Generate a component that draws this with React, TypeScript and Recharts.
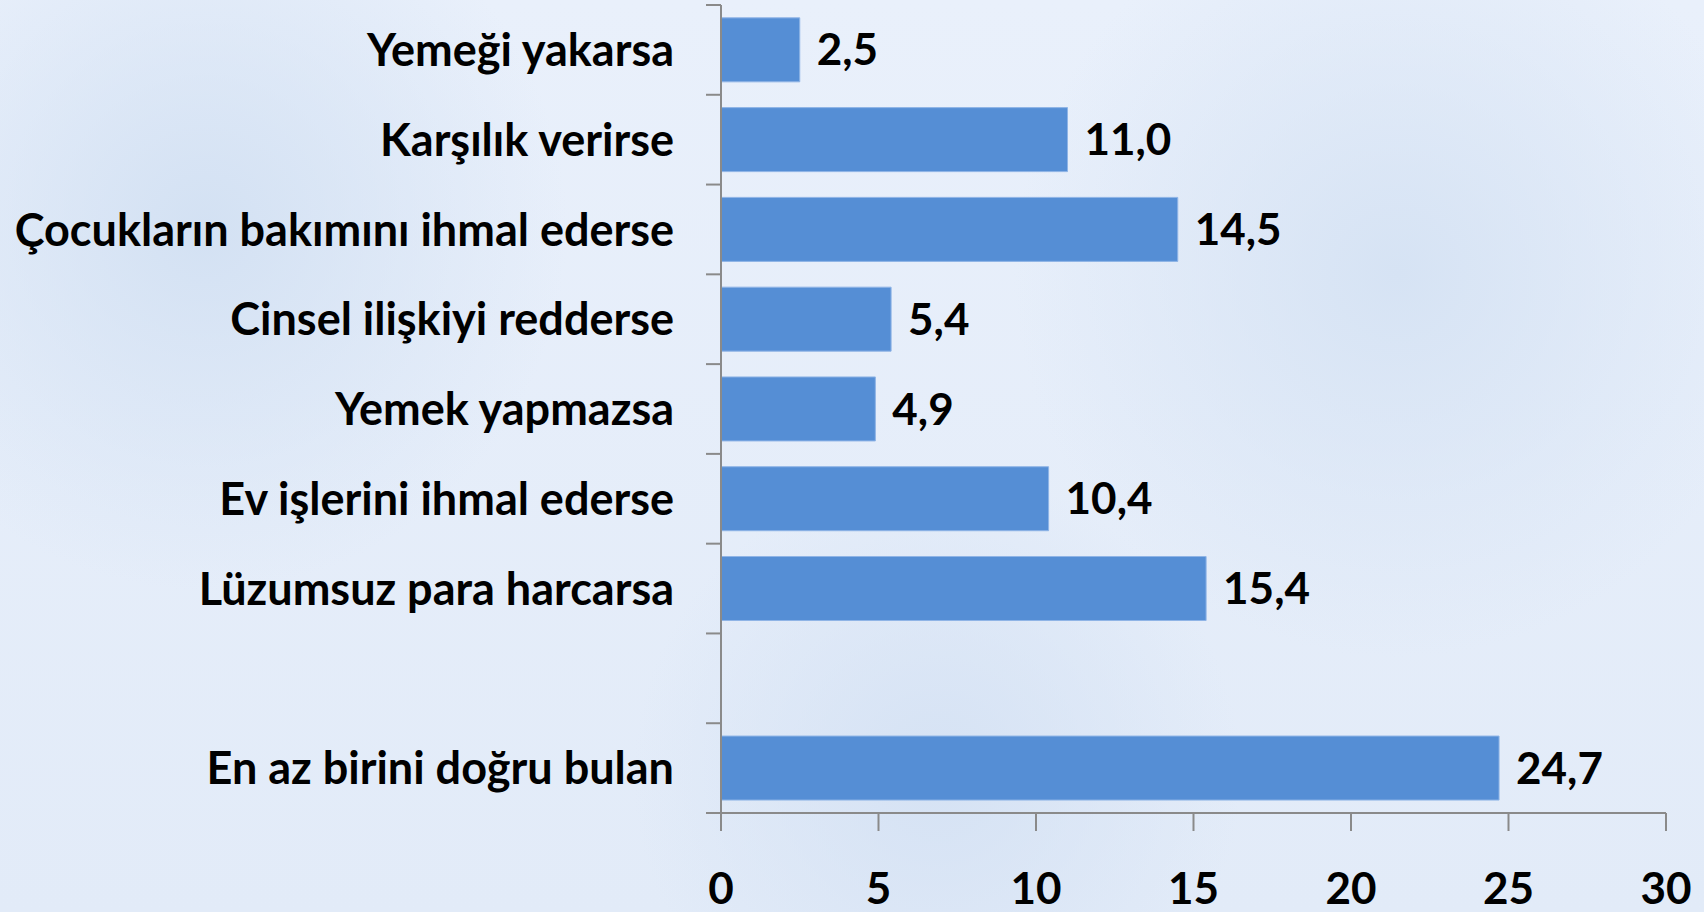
import React from "react";
import { BarChart, Bar, XAxis, YAxis, LabelList } from "recharts";

const categories = [
  "Yemeği yakarsa",
  "Karşılık verirse",
  "Çocukların bakımını ihmal ederse",
  "Cinsel ilişkiyi redderse",
  "Yemek yapmazsa",
  "Ev işlerini ihmal ederse",
  "Lüzumsuz para harcarsa",
  "",
  "En az birini doğru bulan",
];
const values: (number | null)[] = [2.5, 11.0, 14.5, 5.4, 4.9, 10.4, 15.4, null, 24.7];
const xTicks = [0, 5, 10, 15, 20, 25, 30];

const data = categories.map((c, i) => ({ name: c, value: values[i] }));

const FONT = "Lato, 'Open Sans', sans-serif";
const AXIS = "#8a8a8a";

const fmt = (v: any) =>
  v === null || v === undefined || v === "" ? "" : Number(v).toFixed(1).replace(".", ",");

const YTick = (props: any) => {
  const { x, y, payload, index } = props;
  const half = payload && payload.offset ? payload.offset : 44.85;
  const last = index === categories.length - 1;
  return (
    <g>
      <line x1={x - 15} x2={x} y1={y - half} y2={y - half} stroke={AXIS} strokeWidth={2} />
      {last && <line x1={x - 15} x2={x} y1={y + half} y2={y + half} stroke={AXIS} strokeWidth={2} />}
      <text
        x={x - 47}
        y={y}
        dy="0.36em"
        textAnchor="end"
        fontFamily={FONT}
        fontWeight={700}
        fontSize={45}
        fill="#000"
      >
        {payload.value}
      </text>
    </g>
  );
};

const XTick = (props: any) => {
  const { x, y, payload } = props;
  return (
    <text x={x} y={y} dy={71} textAnchor="middle" fontFamily={FONT} fontWeight={700} fontSize={44} fill="#000">
      {payload.value}
    </text>
  );
};

export default function App() {
  return (
    <div
      style={{
        position: "absolute",
        left: 0,
        top: 0,
        width: 1704,
        height: 912,
        background:
          "radial-gradient(circle at 12% 25%, #d3e1f3 0%, rgba(211,225,243,0) 22%), radial-gradient(circle at 82% 30%, #d6e3f4 0%, rgba(214,227,244,0) 25%), radial-gradient(circle at 55% 85%, #d5e2f4 0%, rgba(213,226,244,0) 25%), linear-gradient(#e9f0fb, #e2ebf8)",
      }}
    >
      <BarChart
        width={1704}
        height={912}
        data={data}
        layout="vertical"
        margin={{ top: 5, right: 38, bottom: 9, left: 0 }}
        barCategoryGap="14.3%"
      >
        <XAxis
          type="number"
          domain={[0, 30]}
          ticks={xTicks}
          interval={0}
          height={90}
          tickSize={18}
          tickMargin={2}
          stroke={AXIS}
          strokeWidth={2}
          tickLine={{ stroke: AXIS, strokeWidth: 2 }}
          axisLine={{ stroke: AXIS, strokeWidth: 2 }}
          tick={<XTick />}
        />
        <YAxis
          type="category"
          dataKey="name"
          width={721}
          interval={0}
          tickSize={0}
          tickMargin={0}
          tickLine={false}
          axisLine={{ stroke: AXIS, strokeWidth: 2 }}
          tick={<YTick />}
        />
        <Bar dataKey="value" fill="#558ed5" stroke="#8fb4e6" strokeWidth={1} isAnimationActive={false}>
          <LabelList
            dataKey="value"
            position="right"
            offset={17}
            formatter={fmt}
            style={{ fontFamily: FONT, fontWeight: 700, fontSize: 44, fill: "#000" }}
          />
        </Bar>
      </BarChart>
    </div>
  );
}
